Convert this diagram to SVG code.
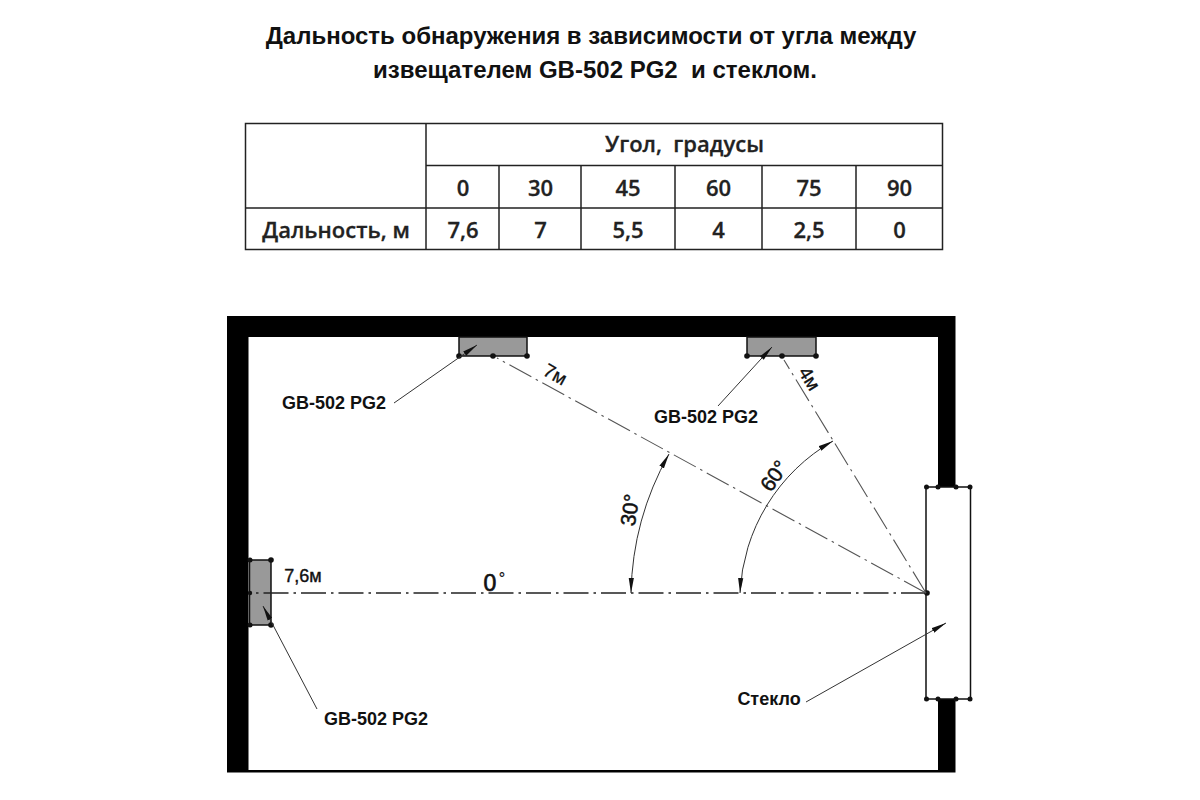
<svg xmlns="http://www.w3.org/2000/svg" width="1200" height="800" viewBox="0 0 1200 800">
<style>
.t{font-family:"Liberation Sans",Arial,sans-serif;font-weight:700;fill:#111}
.title{font-size:24px}
.lab{font-size:18px;text-anchor:middle}
.dim{text-anchor:middle;font-family:"Liberation Sans",Arial,sans-serif;fill:#111;stroke:#111;stroke-width:.5}
.c{font-family:"Open Sans",sans-serif;font-weight:600;font-size:22px;text-anchor:middle;fill:#222;stroke:#222;stroke-width:.3}
.g{stroke:#222;stroke-width:1.5;fill:none}
.wall{fill:#000}
.sensor{fill:#999;stroke:#111;stroke-width:1.5}
.ax{stroke:#222;stroke-width:1.5;fill:none;stroke-dasharray:25 5 2.500 5}
.ax2{stroke:#555;stroke-width:1.100;fill:none;stroke-dasharray:25 5 2.500 5}
.lead{stroke:#333;stroke-width:1;fill:none}
.d{fill:#111}
</style>
<defs>
<marker id="a" viewBox="0 0 15 6" refX="15" refY="3" markerWidth="15" markerHeight="6" markerUnits="userSpaceOnUse" orient="auto-start-reverse"><path d="M0 0.4L15 3L0 5.600z" fill="#111"/></marker>
</defs>
<g id="title">
<text class="t title" x="591" y="44" text-anchor="middle">Дальность обнаружения в зависимости от угла между</text>
<text class="t title" x="595" y="78" text-anchor="middle" xml:space="preserve">извещателем GB-502 PG2  и стеклом.</text>
</g>
<g id="table">
<path class="g" d="M245.500 123.500H942.500V249.500H245.500ZM426 123.500V249.500M426 165.500H942.500M245.500 208H942.500M499 165.500V249.500M581 165.500V249.500M675 165.500V249.500M762 165.500V249.500M856 165.500V249.500"/>
<text class="c" x="684.500" y="152" xml:space="preserve">Угол,  градусы</text>
<text class="c" x="463" y="196">0</text><text class="c" x="540.500" y="196">30</text><text class="c" x="628" y="196">45</text><text class="c" x="718.500" y="196">60</text><text class="c" x="809" y="196">75</text><text class="c" x="899.500" y="196">90</text>
<text class="c" x="336" y="238">Дальность, м</text>
<text class="c" x="463" y="238">7,6</text><text class="c" x="540.500" y="238">7</text><text class="c" x="628" y="238">5,5</text><text class="c" x="718.500" y="238">4</text><text class="c" x="809" y="238">2,5</text><text class="c" x="899.500" y="238">0</text>
</g>
<g id="room">
<path class="wall" d="M227 316H955.500V487H938V337H248.500V770H938V699H955.500V772.500H227Z"/>
</g>
<g id="window">
<rect x="926" y="487" width="44.500" height="212" fill="#fff" stroke="#111" stroke-width="1.500"/>
<g class="d"><circle cx="926.500" cy="487" r="2.500"/><circle cx="938" cy="487" r="2.500"/><circle cx="956" cy="487" r="2.500"/><circle cx="970" cy="487" r="2.500"/><circle cx="926.500" cy="699" r="2.500"/><circle cx="938" cy="699" r="2.500"/><circle cx="956" cy="699" r="2.500"/><circle cx="970" cy="699" r="2.500"/><circle cx="927" cy="593" r="2.800"/></g>
</g>
<g id="sensor-top-1">
<rect class="sensor" x="459" y="337" width="68" height="19"/>
<circle class="d" cx="459" cy="356" r="2.800"/><circle class="d" cx="493" cy="356" r="2.800"/><circle class="d" cx="527" cy="356" r="2.800"/>
</g>
<g id="sensor-top-2">
<rect class="sensor" x="747" y="337" width="69" height="19"/>
<circle class="d" cx="747" cy="356" r="2.800"/><circle class="d" cx="782" cy="356" r="2.800"/><circle class="d" cx="816" cy="356" r="2.800"/>
</g>
<g id="sensor-left">
<rect class="sensor" x="249.500" y="560" width="21.500" height="65"/>
<circle class="d" cx="250" cy="560" r="2.500"/><circle class="d" cx="271" cy="560" r="2.800"/><circle class="d" cx="250" cy="625" r="2.500"/><circle class="d" cx="271" cy="625" r="2.800"/><circle class="d" cx="250" cy="593" r="2.200"/>
</g>
<g id="connectors">
<path class="ax" d="M926 593H251"/>
<path class="ax2" d="M926 593L497 358"/>
<path class="ax2" d="M926 593L784 360"/>
<path class="lead" marker-start="url(#a)" marker-end="url(#a)" d="M631 593A296 296 0 0 1 669 454"/>
<path class="lead" marker-start="url(#a)" marker-end="url(#a)" d="M740 593A185 185 0 0 1 833 441"/>
<path class="lead" marker-end="url(#a)" d="M394 403L477 345"/>
<path class="lead" marker-end="url(#a)" d="M718 406L772 347"/>
<path class="lead" marker-end="url(#a)" d="M317 709L263 606"/>
<path class="lead" marker-end="url(#a)" d="M806 702L946 623"/>
</g>
<g id="labels">
<text class="t lab" x="334" y="409">GB-502 PG2</text>
<text class="t lab" x="706" y="423">GB-502 PG2</text>
<text class="t lab" x="376" y="725">GB-502 PG2</text>
<text class="t lab" x="769" y="705">Стекло</text>
<text class="dim" x="303" y="582" style="font-size:18px;stroke-width:.4">7,6м</text>
<text class="dim" x="490" y="591" style="font-size:23px;stroke-width:.7">0</text>
<text class="dim" x="502" y="584" style="font-size:16px;stroke-width:.2">°</text>
<text class="dim" transform="translate(552 380) rotate(29)" style="font-size:19px;stroke-width:.3">7м</text>
<text class="dim" transform="translate(804 382) rotate(58)" style="font-size:19px;stroke-width:.3">4м</text>
<text class="dim" transform="translate(637 511) rotate(-82)" style="font-size:21px">30°</text>
<text class="dim" transform="translate(780 480) rotate(-55)" style="font-size:21px">60°</text>
</g>
</svg>
